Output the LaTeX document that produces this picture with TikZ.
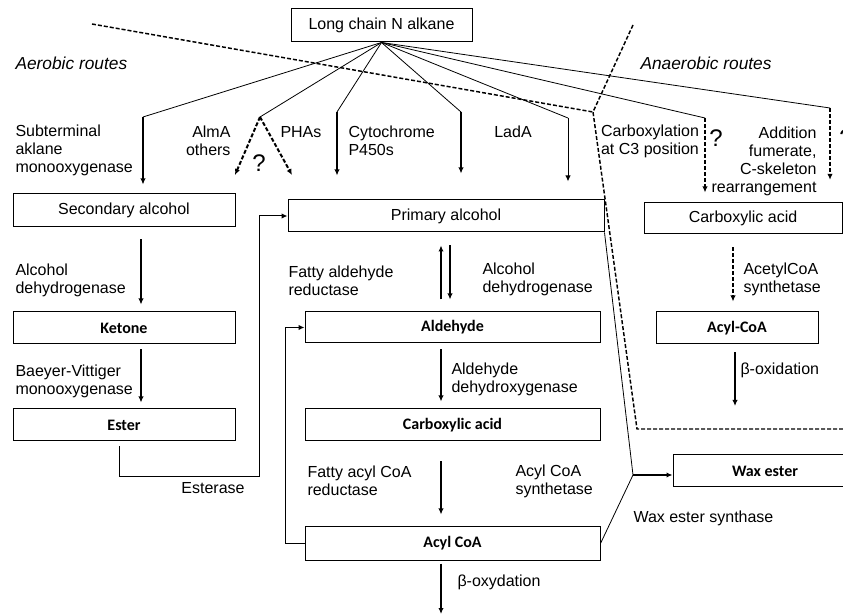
\documentclass[tikz,border=0pt]{standalone}
\usepackage{fontspec}
\setmainfont{Liberation Sans}
\newfontfamily\boxfont{Carlito}
\usetikzlibrary{arrows.meta}

\tikzset{every picture/.style={line width=0.75pt}}
\tikzset{
  box/.style={draw, line width=0.75pt, inner sep=0pt, font=\fontsize{12}{13.5}\selectfont},
  bbox/.style={box, font=\boxfont\bfseries\fontsize{12}{13.5}\selectfont},
  lbl/.style={inner sep=0pt, font=\fontsize{12}{13.5}\selectfont},
  route/.style={inner sep=0pt, font=\itshape\fontsize{13}{15}\selectfont},
  qmark/.style={inner sep=0pt, font=\fontsize{18}{20}\selectfont},
  fanline/.style={line width=0.6pt},
  thk/.style={line width=1.5pt, -{Latex[length=4.5pt,width=4pt]}},
  thn/.style={line width=0.75pt, -{Latex[length=4.5pt,width=4pt]}},
  dsh/.style={thk, dash pattern=on 3pt off 1.5pt},
  bnd/.style={line width=1.1pt, dash pattern=on 3pt off 1.5pt},
}

\begin{document}
\begin{tikzpicture}[x=0.75pt,y=0.75pt,yscale=-1,xscale=1]
\useasboundingbox (0,0) rectangle (843,616);

% Boxes
\node[box, minimum width=135.75pt, minimum height=24.75pt] (alk) at (381.5,25.5) {Long chain N alkane};
\node[box, minimum width=166.5pt, minimum height=24.75pt] (sec) at (124,210.5) {Secondary alcohol};
\node[bbox, minimum width=166.5pt, minimum height=24pt] (ket) at (124,328) {Ketone};
\node[bbox, minimum width=166.5pt, minimum height=24pt] (est) at (124,425) {Ester};
\node[box, minimum width=237pt, minimum height=24pt] (prim) at (446,216) {Primary alcohol};
\node[bbox, minimum width=221.25pt, minimum height=23.25pt] (ald) at (452.5,327.5) {Aldehyde};
\node[bbox, minimum width=221.25pt, minimum height=24pt] (carb) at (452.5,425) {Carboxylic acid};
\node[bbox, minimum width=221.25pt, minimum height=24.75pt] (acyl) at (452.5,543.5) {Acyl CoA};
\node[box, minimum width=148.5pt, minimum height=23.25pt] (rcarb) at (743,218.5) {Carboxylic acid};
\node[bbox, minimum width=121.5pt, minimum height=24pt] (racyl) at (737,328) {Acyl-CoA};
\node[bbox, minimum width=138pt, minimum height=24pt] (wax) at (765,471) {Wax ester};

% Route boundary
\coordinate (b0) at (92,24);
\coordinate (b1) at (593,112);
\coordinate (b2) at (633,25);
\coordinate (b3) at (637,429);
\coordinate (b4) at (850,429);
\draw[bnd] (b0) -- (b1);
\draw[bnd] (b2) -- (b1) -- (b3) -- (b4);

% Fan from the alkane
\coordinate (f1) at (143,117);
\coordinate (f2) at (260,117);
\coordinate (f3) at (337,112);
\coordinate (f4) at (461,112);
\coordinate (f5) at (568,118);
\coordinate (f6) at (705,118);
\coordinate (f7) at (830,108);
\foreach \p in {f1,f2,f3,f4,f5,f6,f7}
  \draw[fanline] (alk.south) -- (\p);

\coordinate (a1) at (235,175);
\coordinate (a2) at (292,175);
\draw[thk, shorten >=6.75pt] (f1) -- (sec.north -| f1);
\draw[dsh] (f2) -- (a1);
\draw[dsh] (f2) -- (a2);
\draw[thk, shorten >=18pt] (f3) -- (prim.north -| f3);
\draw[thk, shorten >=19.5pt] (f4) -- (prim.north -| f4);
\draw[thn, shorten >=13.5pt] (f5) -- (prim.north -| f5);
\draw[dsh, shorten >=7.5pt] (f6) -- (rcarb.north -| f6);
\draw[dsh, shorten >=17pt] (f7) -- (rcarb.north -| f7);

% Subterminal route
\coordinate (xl) at (141,0);
\coordinate (xe) at (119,0);
\coordinate (e2) at (259,477);
\draw[thk, shorten <=9pt, shorten >=5.25pt] (sec.south -| xl) -- (ket.north -| xl);
\draw[thk, shorten <=3.75pt, shorten >=4.5pt] (ket.south -| xl) -- (est.north -| xl);
\draw[thn, shorten <=3.75pt] (est.south -| xe) |- (e2) |- (prim.west);

% Terminal route
\coordinate (xu) at (441,0);
\coordinate (xd) at (450,0);
\coordinate (bo) at (441,614);
\draw[thk, shorten <=9pt, shorten >=9.75pt] (ald.north -| xu) -- (prim.south -| xu);
\draw[thk, shorten <=9.75pt, shorten >=9pt] (prim.south -| xd) -- (ald.north -| xd);
\draw[thk, shorten <=4.5pt, shorten >=5.25pt] (ald.south -| xu) -- (carb.north -| xu);
\draw[thk, shorten <=15pt, shorten >=9pt] (carb.south -| xu) -- (acyl.north -| xu);
\draw[thk, shorten <=2.25pt] (acyl.south -| xu) -- (bo);
\draw[thn] (acyl.west) -- ++(-19,0) |- (ald.west);

% Wax ester
\coordinate (wj) at (633,475);
\draw[fanline] (prim.south east) -- (wj);
\draw[fanline] (acyl.east) -- (wj);
\draw[thk] (wj) -- (wj -| wax.west);

% Anaerobic route
\coordinate (xr) at (733,0);
\coordinate (bo2) at (735,406);
\draw[dsh, shorten <=9.75pt, shorten >=7.5pt] (rcarb.south -| xr) -- (racyl.north -| xr);
\draw[thk, shorten <=6pt] (racyl.south -| bo2) -- (bo2);

% Text Node
\node[route, anchor=west] (aer) at (15,63) {Aerobic routes};
\node[route, anchor=west] (anaer) at (640,63) {Anaerobic routes};
\node[lbl, anchor=west, align=left] (subt) at (15,150) {Subterminal\\aklane\\monooxygenase};
\node[lbl, anchor=east, align=right] (alma) at (231,141) {AlmA\\others};
\node[lbl, anchor=west] (phas) at (280,132) {PHAs};
\node[lbl, anchor=west, align=left] (cyt) at (348,141) {Cytochrome\\P450s};
\node[lbl] (lada) at (513,132) {LadA};
\node[lbl, align=center] (cbx) at (650,141) {Carboxylation\\at C3 position};
\node[lbl, anchor=east, align=right] (add) at (817,161) {Addition\\fumerate,\\C-skeleton\\rearrangement};
\node[qmark] (q1) at (259,163) {?};
\node[qmark] (q2) at (716,138) {?};
\node[qmark] (q3) at (846,138) {?};
\node[lbl, anchor=west, align=left] (adh1) at (15,280) {Alcohol\\dehydrogenase};
\node[lbl, anchor=west, align=left] (bvm) at (15,381) {Baeyer-Vittiger\\monooxygenase};
\node[lbl] (estr) at (213,488) {Esterase};
\node[lbl, anchor=west, align=left] (far) at (288,281) {Fatty aldehyde\\reductase};
\node[lbl, anchor=west, align=left] (adh2) at (482,279) {Alcohol\\dehydrogenase};
\node[lbl, anchor=west, align=left] (aldh) at (451,379) {Aldehyde\\dehydroxygenase};
\node[lbl, anchor=west, align=left] (facr) at (307,481) {Fatty acyl CoA\\reductase};
\node[lbl, anchor=west, align=left] (acs) at (515,481) {Acyl CoA\\synthetase};
\node[lbl, anchor=west] (wes) at (633,518) {Wax ester synthase};
\node[lbl, anchor=west] (boxy) at (457,582) {β-oxydation};
\node[lbl, anchor=west, align=left] (acoa) at (743,279) {AcetylCoA\\synthetase};
\node[lbl, anchor=west] (boxi) at (740,370) {β-oxidation};

\end{tikzpicture}
\end{document}
